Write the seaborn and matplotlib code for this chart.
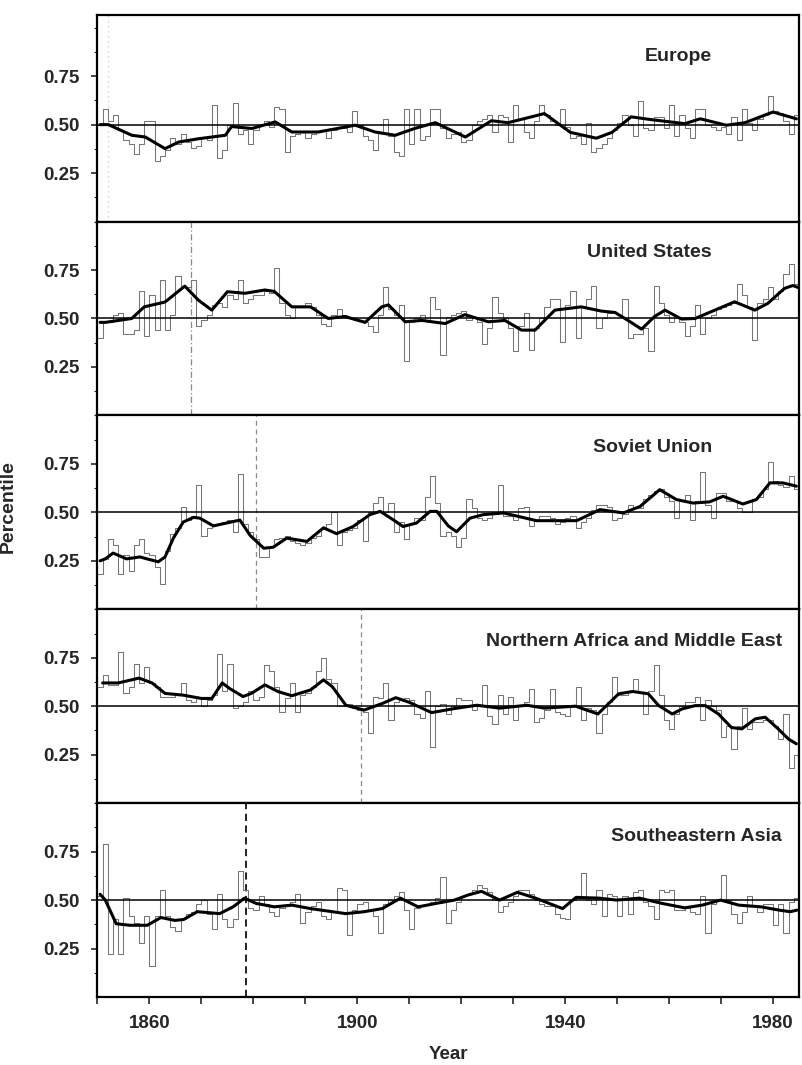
import matplotlib
matplotlib.use("Agg")
import matplotlib.pyplot as plt
from matplotlib.ticker import FixedLocator, MultipleLocator
import numpy as np
import pandas as pd
import seaborn as sns

# ---------------- data ----------------
years = list(range(1850, 1985))

europe = [0.50,0.58,0.52,0.55,0.47,0.42,0.40,0.35,0.40,0.52,
          0.52,0.31,0.34,0.37,0.43,0.40,0.45,0.41,0.38,0.39,
          0.43,0.42,0.60,0.33,0.37,0.50,0.61,0.45,0.47,0.40,
          0.47,0.50,0.52,0.49,0.59,0.58,0.36,0.44,0.45,0.46,
          0.43,0.45,0.46,0.47,0.43,0.47,0.49,0.48,0.46,0.57,
          0.50,0.44,0.42,0.37,0.46,0.53,0.44,0.36,0.34,0.58,
          0.40,0.58,0.42,0.44,0.58,0.58,0.48,0.43,0.45,0.46,
          0.41,0.42,0.50,0.52,0.53,0.55,0.46,0.55,0.54,0.41,
          0.60,0.53,0.46,0.43,0.52,0.60,0.55,0.52,0.50,0.58,
          0.49,0.43,0.44,0.40,0.51,0.36,0.38,0.40,0.43,0.47,
          0.51,0.55,0.50,0.44,0.62,0.48,0.47,0.54,0.54,0.48,
          0.60,0.44,0.55,0.48,0.43,0.58,0.58,0.50,0.49,0.47,
          0.49,0.45,0.54,0.42,0.58,0.51,0.47,0.53,0.55,0.65,
          0.57,0.56,0.52,0.45,0.55]

united_states = [0.40,0.48,0.48,0.52,0.53,0.42,0.42,0.44,0.64,0.41,
                 0.62,0.44,0.70,0.44,0.52,0.72,0.67,0.66,0.70,0.46,
                 0.49,0.52,0.57,0.58,0.56,0.62,0.60,0.70,0.58,0.60,
                 0.62,0.62,0.64,0.63,0.76,0.58,0.52,0.50,0.56,0.56,
                 0.58,0.56,0.52,0.47,0.46,0.52,0.55,0.52,0.50,0.50,
                 0.49,0.48,0.46,0.43,0.52,0.66,0.55,0.52,0.57,0.28,
                 0.48,0.50,0.52,0.49,0.61,0.55,0.31,0.51,0.52,0.53,
                 0.54,0.49,0.51,0.48,0.37,0.45,0.61,0.53,0.50,0.45,
                 0.33,0.46,0.53,0.34,0.45,0.50,0.56,0.60,0.60,0.38,
                 0.57,0.64,0.40,0.56,0.60,0.67,0.45,0.50,0.53,0.53,
                 0.52,0.60,0.40,0.42,0.42,0.45,0.33,0.67,0.58,0.52,
                 0.48,0.50,0.48,0.41,0.46,0.57,0.42,0.50,0.52,0.55,
                 0.56,0.57,0.58,0.68,0.62,0.56,0.39,0.58,0.60,0.66,
                 0.60,0.64,0.73,0.78,0.68]

soviet_union = [0.18,0.26,0.36,0.33,0.18,0.28,0.20,0.33,0.36,0.29,
                0.28,0.22,0.13,0.30,0.39,0.42,0.53,0.46,0.48,0.64,
                0.38,0.42,0.44,0.44,0.45,0.46,0.40,0.70,0.44,0.40,
                0.36,0.27,0.27,0.32,0.36,0.37,0.38,0.35,0.34,0.33,
                0.34,0.37,0.38,0.42,0.44,0.50,0.33,0.40,0.41,0.42,
                0.46,0.35,0.50,0.55,0.58,0.50,0.55,0.40,0.45,0.36,
                0.44,0.47,0.46,0.58,0.69,0.55,0.38,0.40,0.38,0.32,
                0.37,0.57,0.52,0.47,0.46,0.47,0.49,0.64,0.48,0.48,
                0.46,0.52,0.53,0.43,0.46,0.48,0.48,0.47,0.44,0.45,
                0.47,0.48,0.42,0.45,0.47,0.51,0.54,0.54,0.53,0.46,
                0.47,0.49,0.54,0.52,0.52,0.57,0.59,0.61,0.62,0.58,
                0.56,0.47,0.56,0.59,0.46,0.56,0.71,0.54,0.47,0.60,
                0.60,0.56,0.56,0.52,0.50,0.50,0.57,0.58,0.62,0.76,
                0.66,0.64,0.63,0.69,0.62]

n_africa_me = [0.60,0.66,0.61,0.61,0.78,0.57,0.60,0.72,0.62,0.70,
               0.62,0.60,0.55,0.55,0.55,0.56,0.62,0.53,0.52,0.55,
               0.50,0.53,0.56,0.77,0.58,0.72,0.49,0.50,0.52,0.58,
               0.53,0.55,0.71,0.68,0.60,0.47,0.54,0.62,0.47,0.56,
               0.57,0.60,0.68,0.75,0.64,0.62,0.50,0.50,0.51,0.49,
               0.48,0.47,0.36,0.55,0.54,0.62,0.43,0.52,0.53,0.54,
               0.53,0.46,0.44,0.58,0.29,0.50,0.51,0.46,0.50,0.54,
               0.53,0.53,0.48,0.50,0.61,0.45,0.41,0.56,0.46,0.55,
               0.43,0.50,0.52,0.59,0.42,0.44,0.48,0.59,0.47,0.46,
               0.45,0.50,0.60,0.43,0.49,0.48,0.36,0.46,0.52,0.65,
               0.56,0.56,0.58,0.64,0.57,0.46,0.58,0.71,0.56,0.43,
               0.38,0.46,0.50,0.52,0.52,0.55,0.43,0.53,0.50,0.48,
               0.34,0.40,0.28,0.40,0.49,0.38,0.42,0.42,0.43,0.43,
               0.40,0.33,0.46,0.18,0.25]

se_asia = [0.52,0.79,0.22,0.40,0.22,0.51,0.42,0.38,0.28,0.42,
           0.16,0.42,0.55,0.42,0.36,0.34,0.40,0.43,0.44,0.48,
           0.50,0.43,0.35,0.53,0.40,0.36,0.40,0.65,0.55,0.46,
           0.45,0.52,0.48,0.44,0.42,0.46,0.47,0.49,0.53,0.38,
           0.44,0.47,0.49,0.42,0.40,0.44,0.56,0.55,0.32,0.45,
           0.48,0.49,0.45,0.42,0.33,0.48,0.50,0.52,0.54,0.45,
           0.35,0.46,0.47,0.48,0.49,0.51,0.62,0.38,0.45,0.49,
           0.52,0.53,0.55,0.58,0.56,0.54,0.50,0.44,0.47,0.49,
           0.52,0.55,0.55,0.53,0.50,0.48,0.47,0.47,0.43,0.41,
           0.40,0.50,0.52,0.64,0.50,0.48,0.55,0.42,0.53,0.52,
           0.42,0.52,0.43,0.54,0.55,0.49,0.47,0.40,0.55,0.54,
           0.55,0.45,0.45,0.46,0.44,0.43,0.52,0.33,0.48,0.50,
           0.63,0.50,0.43,0.38,0.44,0.52,0.47,0.44,0.48,0.48,
           0.37,0.48,0.33,0.49,0.51]

# smoothed curves
europe_sm_years = [1850.5,1852.1,1856.6,1859.2,1863,1865.6,1869.4,1872,1874.6,1875.8,
                   1879.7,1884.2,1887.4,1892.5,1899.6,1903.4,1907.3,1911,1915,1920.8,
                   1925.8,1929,1932,1936,1941,1946,1949,1952.7,1956.5,1963,
                   1966,1971,1974.6,1980,1984.5]
europe_sm_vals = [0.50,0.50,0.445,0.436,0.376,0.41,0.427,0.436,0.445,0.49,
                  0.48,0.514,0.462,0.462,0.497,0.462,0.445,0.48,0.51,0.436,
                  0.52,0.51,0.53,0.557,0.46,0.43,0.46,0.54,0.526,0.505,
                  0.53,0.497,0.51,0.565,0.53]

us_sm_years = [1850.5,1851.5,1856.6,1859,1863,1866.8,1869.4,1872,1875,1878.4,
               1882.2,1884,1887.4,1891,1894.4,1897.6,1901.5,1904.7,1906,1909.2,
               1912.4,1916.9,1920.7,1925.2,1928.4,1931.6,1934.2,1938,1943.1,1947,
               1949.6,1952.1,1954.7,1957.2,1959.2,1962.4,1965,1968.1,1972.6,1976.5,
               1979,1982.2,1983.8,1984.8]
us_sm_vals = [0.48,0.48,0.50,0.56,0.585,0.667,0.595,0.543,0.638,0.63,
              0.647,0.64,0.56,0.56,0.50,0.51,0.48,0.56,0.57,0.483,
              0.49,0.474,0.52,0.483,0.49,0.44,0.44,0.543,0.56,0.538,
              0.531,0.49,0.445,0.51,0.543,0.497,0.50,0.535,0.586,0.543,
              0.578,0.655,0.67,0.66]

su_sm_years = [1850.5,1851.5,1853,1855.6,1858.2,1859.5,1861.7,1863,1864.6,1866.5,
               1868.5,1869.7,1872.3,1876.2,1877.4,1879.4,1882,1883.8,1886.4,1890.3,
               1893.5,1896,1899.2,1902.4,1904.4,1907,1908.8,1911.4,1914,1915.3,
               1917.5,1919.1,1921.7,1924.2,1928.1,1934.5,1942.2,1946.7,1951.2,1954.4,
               1958.2,1961.4,1964.6,1967.8,1970.4,1974.2,1976.8,1979.4,1981.9,1984.5]
su_sm_vals = [0.25,0.26,0.29,0.26,0.27,0.26,0.245,0.27,0.367,0.45,
              0.474,0.47,0.43,0.453,0.46,0.38,0.315,0.32,0.367,0.35,
              0.42,0.39,0.427,0.488,0.505,0.46,0.427,0.445,0.505,0.505,
              0.43,0.40,0.47,0.488,0.497,0.457,0.457,0.514,0.497,0.53,
              0.617,0.566,0.548,0.554,0.583,0.543,0.566,0.652,0.652,0.635]

name_sm_years = [1851,1854,1858,1860.5,1863,1866.5,1870,1872,1874,1875.5,
                 1878,1879.6,1882.2,1884.8,1887.4,1891,1893.5,1895.2,1897.8,1901.3,
                 1904.8,1907.4,1910,1914.3,1918.7,1923,1927.4,1932.6,1936,1942,
                 1946.3,1950.3,1953,1956,1958,1960.6,1962.5,1965,1967,1969.5,
                 1972,1974,1976.6,1978.5,1981,1983,1984.5]
name_sm_vals = [0.62,0.62,0.645,0.62,0.566,0.557,0.54,0.54,0.62,0.59,
                0.55,0.566,0.61,0.575,0.554,0.584,0.636,0.60,0.505,0.48,
                0.514,0.544,0.52,0.467,0.488,0.505,0.49,0.505,0.49,0.50,
                0.46,0.564,0.576,0.564,0.503,0.46,0.486,0.503,0.503,0.46,
                0.39,0.383,0.435,0.443,0.383,0.33,0.306]

sea_sm_years = [1850.5,1851.5,1853.6,1856.2,1859.6,1862.2,1864.9,1866.6,1869.2,1873.5,
                1876.1,1878.3,1880.5,1884,1887.4,1891,1897.8,1901.3,1904.8,1908.3,
                1911.7,1915.2,1918.7,1921.3,1923.9,1927.4,1930.8,1934.3,1939.5,1942.1,
                1946.5,1949.9,1954.3,1958.6,1963,1966.4,1969.9,1973.4,1977.7,1981.2,
                1983.3,1984.6]
sea_sm_vals = [0.53,0.50,0.378,0.37,0.37,0.41,0.395,0.40,0.44,0.43,
               0.465,0.51,0.483,0.465,0.474,0.456,0.43,0.44,0.456,0.51,
               0.465,0.483,0.50,0.526,0.545,0.50,0.54,0.51,0.456,0.514,
               0.51,0.50,0.51,0.483,0.46,0.474,0.50,0.474,0.465,0.448,
               0.44,0.448]

region_names = ["Europe", "United States", "Soviet Union",
                "Northern Africa and Middle East", "Southeastern Asia"]
cutoff_years = [1852, 1868, 1880.5, 1900.8, 1878.6]
x_tick_labels = ["1860", "1900", "1940", "1980"]
y_tick_labels = ["0.25", "0.50", "0.75"]

annual = [europe, united_states, soviet_union, n_africa_me, se_asia]
smooth_x = [europe_sm_years, us_sm_years, su_sm_years, name_sm_years, sea_sm_years]
smooth_y = [europe_sm_vals, us_sm_vals, su_sm_vals, name_sm_vals, sea_sm_vals]

for a in annual:
    assert len(a) == len(years), len(a)
for sx, sy in zip(smooth_x, smooth_y):
    assert len(sx) == len(sy), (len(sx), len(sy))

# ---------------- style ----------------
sns.set_style("ticks")
plt.rcParams['font.family'] = ['Liberation Sans', 'DejaVu Sans']
plt.rcParams['font.weight'] = 'bold'

W, H = 803, 1065
fig = plt.figure(figsize=(W / 100, H / 100), dpi=100)
left, right = 97.5 / W, 799 / W
top, bottom = 1 - 14.7 / H, 1 - 997 / H
gs = fig.add_gridspec(5, 1, height_ratios=[1.067, 1, 1, 1, 1], hspace=0,
                      left=left, right=right, top=top, bottom=bottom)

title_pos = [(0.876, 0.796), (0.876, 0.84), (0.876, 0.836), (0.976, 0.836), (0.976, 0.828)]
cut_styles = [dict(color='#c8c8c8', lw=0.9, ls=(0, (1, 3))),
              dict(color='#8a8a8a', lw=0.9, ls=(0, (5, 2, 1, 2))),
              dict(color='#8a8a8a', lw=0.9, ls=(0, (4, 3))),
              dict(color='#8a8a8a', lw=0.9, ls=(0, (4, 3))),
              dict(color='#111111', lw=1.3, ls=(0, (4, 2.5)))]

axes = []
for i in range(5):
    ax = fig.add_subplot(gs[i])
    axes.append(ax)
    vals = annual[i]
    df = pd.DataFrame({"year": years + [years[-1] + 1],
                       "value": vals + [vals[-1]]})
    sns.lineplot(data=df, x="year", y="value", ax=ax, drawstyle="steps-post",
                 color="#767676", lw=0.75, estimator=None, legend=False, zorder=2)
    sdf = pd.DataFrame({"year": smooth_x[i], "value": smooth_y[i]})
    sns.lineplot(data=sdf, x="year", y="value", ax=ax, color="black", lw=2.2,
                 estimator=None, legend=False, zorder=4, solid_joinstyle="round",
                 solid_capstyle="round")
    ax.axhline(0.5, color="black", lw=1.1, zorder=3)
    ax.axvline(cutoff_years[i], zorder=1, **cut_styles[i])

    ax.set_xlim(1850, 1985)
    ax.set_ylim(0, 1.067 if i == 0 else 1.0)
    ax.yaxis.set_major_locator(FixedLocator([0.25, 0.5, 0.75]))
    ax.set_yticklabels(y_tick_labels)
    ax.yaxis.set_minor_locator(FixedLocator([0.125, 0.375, 0.625, 0.875, 1.0]))
    ax.xaxis.set_major_locator(FixedLocator([1860, 1900, 1940, 1980]))
    ax.xaxis.set_minor_locator(MultipleLocator(10))
    ax.tick_params(axis='y', which='major', length=4, width=1.2, direction='out',
                   pad=9, labelsize=13.5)
    ax.tick_params(axis='y', which='minor', length=2, width=0.8, direction='out')
    ax.tick_params(axis='x', which='both', length=5, width=1.2, direction='out',
                   pad=8, labelsize=13.5)
    for s in ax.spines.values():
        s.set_linewidth(1.6)
        s.set_color('black')
    ax.set_ylabel("")
    if i < 4:
        ax.set_xticklabels([])
        ax.set_xlabel("")
    else:
        ax.set_xticklabels(x_tick_labels)
        ax.set_xlabel("Year", fontsize=13.5, fontweight='bold', labelpad=10)
    tx, ty = title_pos[i]
    ax.text(tx, ty, region_names[i], transform=ax.transAxes, ha='right',
            va='center', fontsize=14, fontweight='bold')

fig.text(8 / W, 1 - 507 / H, "Percentile", rotation=90, ha='center',
         va='center', fontsize=14, fontweight='bold')

fig.savefig("out.png", dpi=100)
